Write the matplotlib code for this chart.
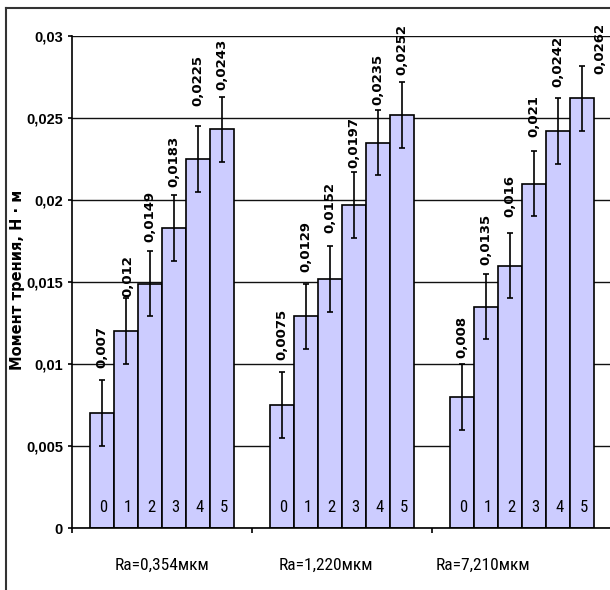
import matplotlib
matplotlib.use('Agg')
import matplotlib.pyplot as plt
from matplotlib.lines import Line2D
from matplotlib import font_manager
import numpy as np

# ---- data ----
categories = ['Ra=0,354мкм', 'Ra=1,220мкм', 'Ra=7,210мкм']
bar_numbers = ['0', '1', '2', '3', '4', '5']
moment_ra_0354 = [0.007, 0.012, 0.0149, 0.0183, 0.0225, 0.0243]
moment_ra_1220 = [0.0075, 0.0129, 0.0152, 0.0197, 0.0235, 0.0252]
moment_ra_7210 = [0.008, 0.0135, 0.016, 0.021, 0.0242, 0.0262]
error_value = 0.002
y_ticks = [0, 0.005, 0.01, 0.015, 0.02, 0.025, 0.03]
y_tick_labels = ['0', '0,005', '0,01', '0,015', '0,02', '0,025', '0,03']
y_label = 'Момент трения, Н · м'

series = [moment_ra_0354, moment_ra_1220, moment_ra_7210]

# ---- fonts: prefer a condensed face if one is installed ----
available = {f.name for f in font_manager.fontManager.ttflist}
narrow = None
for cand in ['Liberation Sans Narrow', 'DejaVu Sans Condensed', 'Roboto Condensed',
             'Open Sans Condensed']:
    if cand in available:
        narrow = cand
        break
if narrow is None:
    narrow_family, cat_size, num_size = 'Liberation Sans', 11.5, 11.5
else:
    narrow_family, cat_size, num_size = narrow, 12.5, 12

# ---- layout (pixels) ----
W, H = 610, 590
PT = 72 / 100.0  # points per pixel at dpi=100
label_offsets = [
    [(0, 12), (2, 1), (0, 9), (0, 8), (0, 20), (0, 7)],
    [(0, 12), (0, 12), (0, 13), (0, 4), (0, 5), (0, 7)],
    [(0, 6), (0, 9), (0, 16), (0, 14), (0, 11), (18, -8)],
]
cat_label_dx = [0, -16, -39]

fig = plt.figure(figsize=(W / 100, H / 100), dpi=100)
ax = fig.add_axes([72 / W, 62 / H, 540 / W, 492 / H])

n = len(bar_numbers)
gap = 1.5
group_w = n + gap

for gi, vals in enumerate(series):
    x0 = gi * group_w + gap / 2
    xs = x0 + np.arange(n) + 0.5
    ax.bar(xs, vals, width=1.0, color='#CCCCFF', edgecolor='black',
           linewidth=1.2, zorder=2)
    ax.errorbar(xs, vals, yerr=error_value, fmt='none', ecolor='black',
                elinewidth=1.2, capsize=2.5, capthick=1.2, zorder=3)
    for j, (x, v) in enumerate(zip(xs, vals)):
        dx, dy = label_offsets[gi][j]
        ax.annotate(str(v).replace('.', ','), xy=(x, v + error_value),
                    xytext=(dx * PT, dy * PT), textcoords='offset points',
                    rotation=90, ha='center', va='bottom',
                    fontsize=9.5, fontweight='bold', family='DejaVu Sans',
                    zorder=4)
        ax.annotate(bar_numbers[j], xy=(x, 0), xytext=(1.5 * PT, 21 * PT),
                    textcoords='offset points', ha='center', va='center',
                    fontsize=num_size, family=[narrow_family, 'DejaVu Sans'],
                    zorder=4)
    cx = gi * group_w + group_w / 2
    ax.annotate(categories[gi], xy=(cx, 0), xycoords=('data', 'axes fraction'),
                xytext=(cat_label_dx[gi] * PT, -37 * PT), textcoords='offset points',
                ha='center', va='center', fontsize=cat_size,
                family=[narrow_family, 'DejaVu Sans'])

ax.set_xlim(0, len(series) * group_w)
ax.set_ylim(0, 0.03)
ax.set_yticks(y_ticks)
ax.set_yticklabels(y_tick_labels, fontsize=10.5, fontweight='bold',
                   family='Liberation Sans')
ax.set_xticks([i * group_w for i in range(len(series) + 1)])
ax.set_xticklabels([''] * (len(series) + 1))
ax.tick_params(axis='y', direction='out', length=4 * PT, width=1.2, pad=5 * PT)
ax.tick_params(axis='x', direction='out', length=5 * PT, width=1.2)

ax.yaxis.grid(True, color='#111111', linewidth=1.0)
ax.set_axisbelow(True)
for s in ['top', 'right']:
    ax.spines[s].set_visible(False)
for s in ['left', 'bottom']:
    ax.spines[s].set_linewidth(1.2)
    ax.spines[s].set_color('black')
ax.patch.set_alpha(0)

fig.text(18 / W, 1 - 280 / H, y_label, rotation=90, ha='center', va='center',
         fontsize=10.5, fontweight='bold', family='DejaVu Sans')

# outer chart frame (left and top edges visible)
fig.add_artist(Line2D([5.5 / W, 5.5 / W], [0, 1 - 8 / H], transform=fig.transFigure,
                      color='#333333', linewidth=1.5))
fig.add_artist(Line2D([5.5 / W, 1], [1 - 8 / H, 1 - 8 / H], transform=fig.transFigure,
                      color='#333333', linewidth=1.5))

fig.savefig('out.png', dpi=100)
